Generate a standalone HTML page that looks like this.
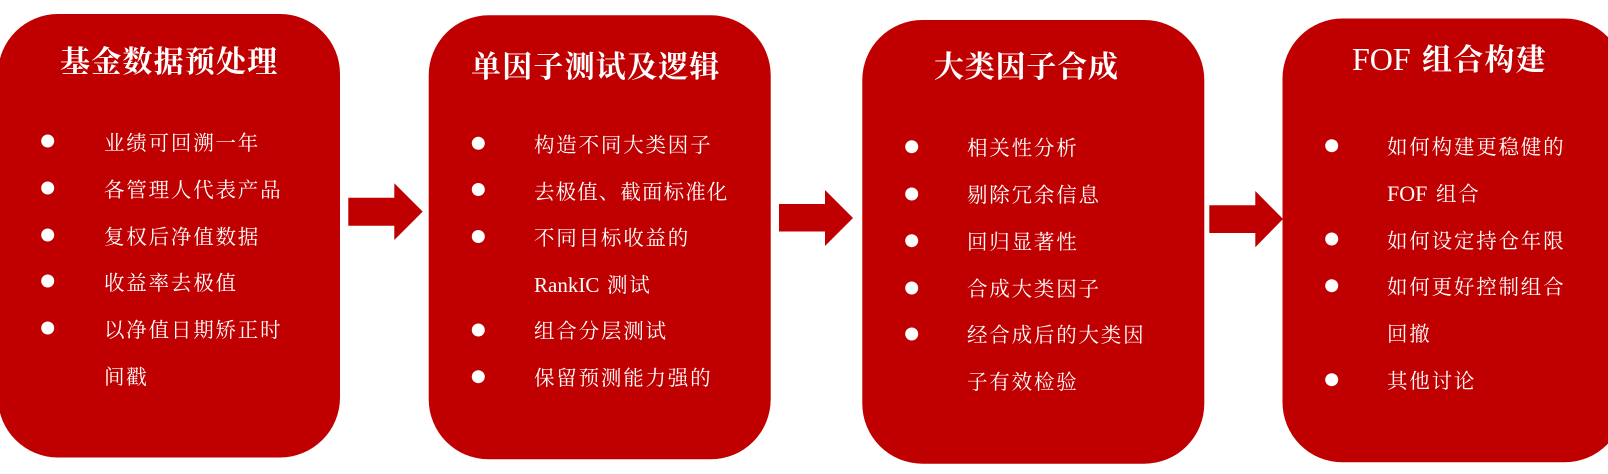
<!DOCTYPE html>
<html lang="zh">
<head>
<meta charset="utf-8">
<title>流程</title>
<style>
html,body{margin:0;padding:0;background:#fff;width:1608px;height:474px;overflow:hidden}
svg{display:block}
text{font-family:"Liberation Serif","Noto Serif CJK SC",serif;fill:#fff}
.t{font-size:30px;font-weight:700;letter-spacing:1.2px}
.i{font-size:20.5px;letter-spacing:1.8px;transform:translateY(-.9px)}
.l{letter-spacing:0;font-size:21px}
</style>
</head>
<body>
<svg width="1608" height="474" viewBox="0 0 1608 474" xmlns="http://www.w3.org/2000/svg">
<g fill="#C00000">
<rect x="-2" y="14" width="342" height="443.5" rx="60" ry="60"/>
<rect x="428.7" y="15.3" width="342" height="444" rx="60" ry="60"/>
<rect x="862.3" y="20" width="342" height="443.7" rx="60" ry="60"/>
<rect x="1282.5" y="18.5" width="342" height="443.8" rx="60" ry="60"/>
<polygon points="348.3,197.7 394.3,197.7 394.3,183.3 422.7,211.6 394.3,240 394.3,225.7 348.3,225.7"/>
<polygon points="779,204 825,204 825,190 853,218 825,246 825,231.5 779,231.5"/>
<polygon points="1209.3,205.3 1255.3,205.3 1255.3,191 1283,219 1255.3,247.3 1255.3,233 1209.3,233"/>
</g>
<g fill="#fff">
<circle cx="47.7" cy="141" r="6.5"/><circle cx="47.7" cy="188" r="6.5"/><circle cx="47.7" cy="235" r="6.5"/><circle cx="47.7" cy="281" r="6.5"/><circle cx="47.7" cy="328" r="6.5"/>
<circle cx="478.3" cy="143.3" r="6.5"/><circle cx="478.3" cy="189.5" r="6.5"/><circle cx="478.3" cy="236.5" r="6.5"/><circle cx="478.3" cy="330" r="6.5"/><circle cx="478.3" cy="376.7" r="6.5"/>
<circle cx="911.7" cy="146.7" r="6.5"/><circle cx="911.7" cy="194" r="6.5"/><circle cx="911.7" cy="240.7" r="6.5"/><circle cx="911.7" cy="288" r="6.5"/><circle cx="911.7" cy="334" r="6.5"/>
<circle cx="1331.7" cy="145.7" r="6.5"/><circle cx="1331.7" cy="239" r="6.5"/><circle cx="1331.7" cy="285.7" r="6.5"/><circle cx="1331.7" cy="379.7" r="6.5"/>
</g>
<g transform="translate(0,.8)">
<text class="t" x="60" y="71">基金数据预处理</text>
<text class="i" x="104" y="150">业绩可回溯一年</text>
<text class="i" x="104" y="197">各管理人代表产品</text>
<text class="i" x="104" y="244">复权后净值数据</text>
<text class="i" x="104" y="290">收益率去极值</text>
<text class="i" x="104" y="337">以净值日期矫正时</text>
<text class="i" x="104" y="384">间戳</text>

<text class="t" x="471" y="76">单因子测试及逻辑</text>
<text class="i" x="534" y="152">构造不同大类因子</text>
<text class="i" x="534" y="199" style="letter-spacing:1.1px">去极值、截面标准化</text>
<text class="i" x="534" y="245">不同目标收益的</text>
<text class="i l" x="534" y="292">RankIC</text>
<text class="i" x="607" y="292">测试</text>
<text class="i" x="534" y="338">组合分层测试</text>
<text class="i" x="534" y="385">保留预测能力强的</text>

<text class="t" x="934" y="76" style="letter-spacing:.8px">大类因子合成</text>
<text class="i" x="967" y="155">相关性分析</text>
<text class="i" x="967" y="202">剔除冗余信息</text>
<text class="i" x="967" y="249">回归显著性</text>
<text class="i" x="967" y="296">合成大类因子</text>
<text class="i" x="967" y="342">经合成后的大类因</text>
<text class="i" x="967" y="389">子有效检验</text>

<text class="l" x="1352" y="69" style="font-size:32px">FOF</text>
<text class="t" x="1422" y="69">组合构建</text>
<text class="i" x="1387" y="154">如何构建更稳健的</text>
<text class="i l" x="1387" y="201" style="font-size:22px">FOF</text>
<text class="i" x="1436" y="201">组合</text>
<text class="i" x="1387" y="248">如何设定持仓年限</text>
<text class="i" x="1387" y="294">如何更好控制组合</text>
<text class="i" x="1387" y="341">回撤</text>
<text class="i" x="1387" y="388">其他讨论</text>
</g>
</svg>
</body>
</html>
